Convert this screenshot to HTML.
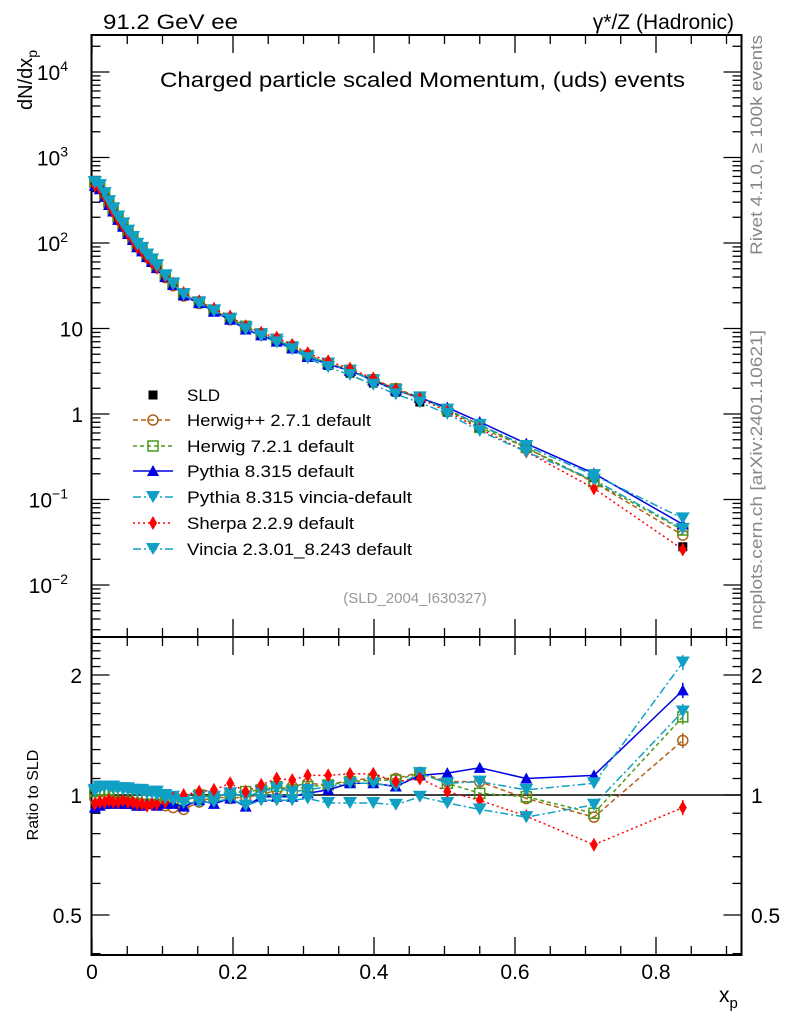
<!DOCTYPE html>
<html><head><meta charset="utf-8"><style>
html,body{margin:0;padding:0;background:#fff;}
svg{display:block;font-family:"Liberation Sans",sans-serif;}
</style></head><body>
<svg id="chart" width="786" height="1024" viewBox="0 0 786 1024" xmlns="http://www.w3.org/2000/svg">
<rect width="786" height="1024" fill="#fff"/>
<g id="frames"></g>
<g id="marks"></g>
<g id="legend"></g>
<text x="103" y="29" font-size="21" textLength="135" lengthAdjust="spacingAndGlyphs">91.2 GeV ee</text>
<text x="734" y="29" font-size="21" text-anchor="end">γ*/Z (Hadronic)</text>
<text x="160" y="87" font-size="21" textLength="525" lengthAdjust="spacingAndGlyphs">Charged particle scaled Momentum, (uds) events</text>
<text transform="translate(32,110) rotate(-90)" font-size="20">dN/dx<tspan font-size="14" dy="5">p</tspan></text>
<text transform="translate(38,795) rotate(-90)" font-size="16" text-anchor="middle">Ratio to SLD</text>
<text x="719" y="1002" font-size="21">x<tspan font-size="15" dy="6">p</tspan></text>
<text x="415" y="603" font-size="15" fill="#999" text-anchor="middle">(SLD_2004_I630327)</text>
<text transform="translate(762,35) rotate(-90)" font-size="17" fill="#888" text-anchor="end" textLength="220" lengthAdjust="spacingAndGlyphs">Rivet 4.1.0, ≥ 100k events</text>
<text transform="translate(762,630) rotate(-90)" font-size="17" fill="#888" textLength="300" lengthAdjust="spacingAndGlyphs">mcplots.cern.ch [arXiv:2401.10621]</text>
</svg>
<script>
const xp = [0.004,0.011,0.018,0.024,0.030,0.037,0.044,0.051,0.058,0.064,0.071,0.078,0.085,0.092,0.104,0.115,0.130,0.152,0.173,0.196,0.218,0.240,0.262,0.284,0.306,0.335,0.366,0.399,0.431,0.465,0.504,0.550,0.616,0.712,0.838];
const sld = [500,452,364,293,243,196,163,134,114,95,85,72,63,54,42,34,26,20.4,16.5,12.9,10.4,8.4,7.1,5.9,4.6,3.7,3.0,2.3,1.8,1.38,1.05,0.69,0.41,0.18,0.028];
const rPythia = [0.93,0.94,0.95,0.95,0.96,0.95,0.95,0.95,0.95,0.94,0.94,0.95,0.95,0.94,0.95,0.95,0.935,0.97,0.95,0.98,0.935,0.99,0.99,0.99,1.01,1.03,1.07,1.07,1.05,1.12,1.135,1.17,1.10,1.12,1.83];
const rHerwigPP = [0.98,0.97,0.97,0.96,0.96,0.96,0.96,0.96,0.95,0.95,0.95,0.95,0.95,0.95,0.94,0.93,0.92,0.96,0.99,0.98,0.99,1.0,1.03,1.05,1.07,1.06,1.09,1.10,1.10,1.14,1.08,1.08,0.98,0.88,1.37];
const rHerwig7 = [1.02,1.03,1.03,1.03,1.02,1.02,1.02,1.02,1.01,1.01,1.0,1.0,1.0,1.0,0.99,0.98,0.97,1.0,0.99,1.01,1.02,1.03,1.05,1.03,1.05,1.06,1.08,1.09,1.09,1.135,1.07,1.01,0.99,0.90,1.57];
const rSherpa = [0.95,0.96,0.96,0.97,0.96,0.96,0.97,0.96,0.96,0.95,0.95,0.94,0.95,0.95,0.96,0.98,1.0,1.02,1.03,1.07,1.02,1.06,1.10,1.09,1.12,1.12,1.13,1.13,1.08,1.10,1.02,0.97,0.885,0.75,0.93];
const rVinciaDef = [1.03,1.05,1.05,1.05,1.05,1.04,1.04,1.04,1.03,1.03,1.03,1.02,1.02,1.02,1.0,0.99,0.97,0.99,0.99,1.01,0.99,1.02,1.04,1.02,1.03,1.05,1.07,1.07,1.05,1.135,1.07,1.08,1.03,1.07,2.15];
const rVincia = [1.02,1.04,1.05,1.05,1.04,1.04,1.03,1.03,1.03,1.02,1.02,1.01,1.01,1.0,0.98,0.97,0.955,0.96,0.96,0.98,0.94,0.97,0.97,0.97,0.98,0.955,0.955,0.955,0.945,0.99,0.955,0.92,0.88,0.945,1.62];
const xTicks = [0,0.2,0.4,0.6,0.8];
const xTickLabels = ["0","0.2","0.4","0.6","0.8"];
const ratioTicks = [0.5,1,2];
const ratioTickLabels = ["0.5","1","2"];

const NS="http://www.w3.org/2000/svg";
const L=91.5,R=741.5,T=35,MB=637,B=955;
function X(v){return 92+v*705;}
function Y(v){return 414-Math.log10(v)*85.5;}
function RY(v){return 795-Math.log10(v)*398.6;}
function el(tag,attrs,parent){const e=document.createElementNS(NS,tag);for(const k in attrs)e.setAttribute(k,attrs[k]);parent.appendChild(e);return e;}
const frames=document.getElementById('frames'),marks=document.getElementById('marks'),leg=document.getElementById('legend');

const f1=el('rect',{x:L,y:T,width:R-L,height:MB-T,fill:'none',stroke:'#000','stroke-width':2},frames);


const f2=el('rect',{x:L,y:MB,width:R-L,height:B-MB,fill:'none',stroke:'#000','stroke-width':2},frames);


for(let v=0;v<=0.92;v+=0.05){
  const px=X(v), major=Math.abs(v*10-Math.round(v*10))<1e-6 && Math.round(v*10)%2===0;
  const len=major?18:9;
  for(const [y0,d] of [[B,-1],[MB,1],[MB,-1],[T,1]]){
    const tk=el('line',{x1:px,x2:px,y1:y0,y2:y0+d*len,stroke:'#000','stroke-width':1.3},frames);
    
    
  }
}
xTicks.forEach((v,i)=>{
  const t=el('text',{x:X(v),y:979,'font-size':21,'text-anchor':'middle'},frames);
  t.textContent=xTickLabels[i];
  
  
});
for(let e=-3;e<=4;e++){
  for(let m=1;m<=9;m++){
    const v=m*Math.pow(10,e), py=Y(v);
    if(py<T||py>MB)continue;
    const len=m===1?18:9;
    const a=el('line',{x1:L,x2:L+len,y1:py,y2:py,stroke:'#000','stroke-width':1.3},frames);
    
    
    const b=el('line',{x1:R,x2:R-len,y1:py,y2:py,stroke:'#000','stroke-width':1.3},frames);
    
    
  }
}
const yLab=[[4,'10','4'],[3,'10','3'],[2,'10','2'],[1,'10',''],[0,'1',''],[-1,'10','−1'],[-2,'10','−2']];
yLab.forEach(([e,b,s])=>{
  const t=el('text',{x:s?68:83,y:Y(Math.pow(10,e))+8,'font-size':21,'text-anchor':'end'},frames);
  t.textContent=b;
  if(s){const sp=el('tspan',{'font-size':14,dy:-9},t);sp.textContent=s;}
  
  
});
for(let v=0.4;v<=2.45;v+=0.1){
  const py=RY(v); if(py<MB||py>B)continue;
  const major=ratioTicks.some(r=>Math.abs(r-v)<1e-6);
  const len=major?18:9;
  const a=el('line',{x1:L,x2:L+len,y1:py,y2:py,stroke:'#000','stroke-width':1.3},frames);
  
  
  const b=el('line',{x1:R,x2:R-len,y1:py,y2:py,stroke:'#000','stroke-width':1.3},frames);
  
  
}
ratioTicks.forEach((v,i)=>{
  const t=el('text',{x:82,y:RY(v)+8,'font-size':21,'text-anchor':'end'},frames);
  t.textContent=ratioTickLabels[i];
  
  
  const t2=el('text',{x:751,y:RY(v)+8,'font-size':21},frames);
  t2.textContent=ratioTickLabels[i];
  
  
});
const one=el('line',{x1:L,x2:R,y1:RY(1),y2:RY(1),stroke:'#000','stroke-width':1.5},frames);



function marker(kind,color,x,y,parent){
  let m;
  if(kind==='circle') m=el('circle',{cx:x,cy:y,r:5,fill:'none',stroke:color,'stroke-width':1.5},parent);
  else if(kind==='square') m=el('rect',{x:x-5,y:y-5,width:10,height:10,fill:'none',stroke:color,'stroke-width':1.5},parent);
  else if(kind==='fsquare') m=el('rect',{x:x-4.5,y:y-4.5,width:9,height:9,fill:color},parent);
  else if(kind==='up') m=el('polygon',{points:`${x-6},${y+5} ${x+6},${y+5} ${x},${y-6}`,fill:color},parent);
  else if(kind==='down') m=el('polygon',{points:`${x-7},${y-6} ${x+7},${y-6} ${x},${y+6}`,fill:color},parent);
  else m=el('polygon',{points:`${x},${y-7} ${x+4},${y} ${x},${y+7} ${x-4},${y}`,fill:color},parent);
  return m;
}
const series=[
 {name:'Herwig++ 2.7.1 default',r:rHerwigPP,c:'#b0601a',k:'circle',d:'5,3',id:'herwigpp'},
 {name:'Herwig 7.2.1 default',r:rHerwig7,c:'#4a9a1a',k:'square',d:'4,3',id:'herwig7'},
 {name:'Pythia 8.315 default',r:rPythia,c:'#0000e6',k:'up',d:'',id:'pythia'},
 {name:'Pythia 8.315 vincia-default',r:rVinciaDef,c:'#10a0c4',k:'down',d:'8,3,2,3',id:'pythia-vincia'},
 {name:'Sherpa 2.2.9 default',r:rSherpa,c:'#ff0000',k:'diamond',d:'2,3',id:'sherpa'},
 {name:'Vincia 2.3.01_8.243 default',r:rVincia,c:'#10a0c4',k:'down',d:'8,3,2,3',id:'vincia'}
];
sld.forEach((v,i)=>{
  const m=marker('fsquare','#000',X(xp[i]),Y(v),marks);
  
  
});
series.forEach(s=>{
  const main=s.r.map((r,i)=>[X(xp[i]),Y(r*sld[i])]);
  const rat=s.r.map((r,i)=>[X(xp[i]),RY(r)]);
  const l1=el('polyline',{points:main.map(p=>p.join(',')).join(' '),fill:'none',stroke:s.c,'stroke-width':1.5,'stroke-dasharray':s.d},marks);
  
  
  const l2=el('polyline',{points:rat.map(p=>p.join(',')).join(' '),fill:'none',stroke:s.c,'stroke-width':1.5,'stroke-dasharray':s.d},marks);
  
  
  main.forEach(p=>{
    const m=marker(s.k,s.c,p[0],p[1],marks);
    
    
  });
  rat.forEach((p,i)=>{
    if(i===rat.length-1){
      const eb=el('line',{x1:p[0],x2:p[0],y1:RY(s.r[i]*1.045),y2:RY(s.r[i]/1.045),stroke:s.c,'stroke-width':1.5},marks);
      
      
    }
    const m=marker(s.k,s.c,p[0],p[1],marks);
    
    
  });
});
const ly=[395,420,446,471,497,523,549];
const g0=el('g',{},leg);


marker('fsquare','#000',153,ly[0],g0);
const t0=el('text',{x:187,y:ly[0]+6,'font-size':17},g0);t0.textContent='SLD';
series.forEach((s,i)=>{
  const g=el('g',{},leg);
  
  
  el('line',{x1:133,x2:173,y1:ly[i+1],y2:ly[i+1],stroke:s.c,'stroke-width':1.5,'stroke-dasharray':s.d},g);
  marker(s.k,s.c,153,ly[i+1],g);
  const t=el('text',{x:187,y:ly[i+1]+6,'font-size':17,'textLength':Math.round(s.name.length*8.35),'lengthAdjust':'spacingAndGlyphs'},g);t.textContent=s.name;
});
</script>
</body></html>
